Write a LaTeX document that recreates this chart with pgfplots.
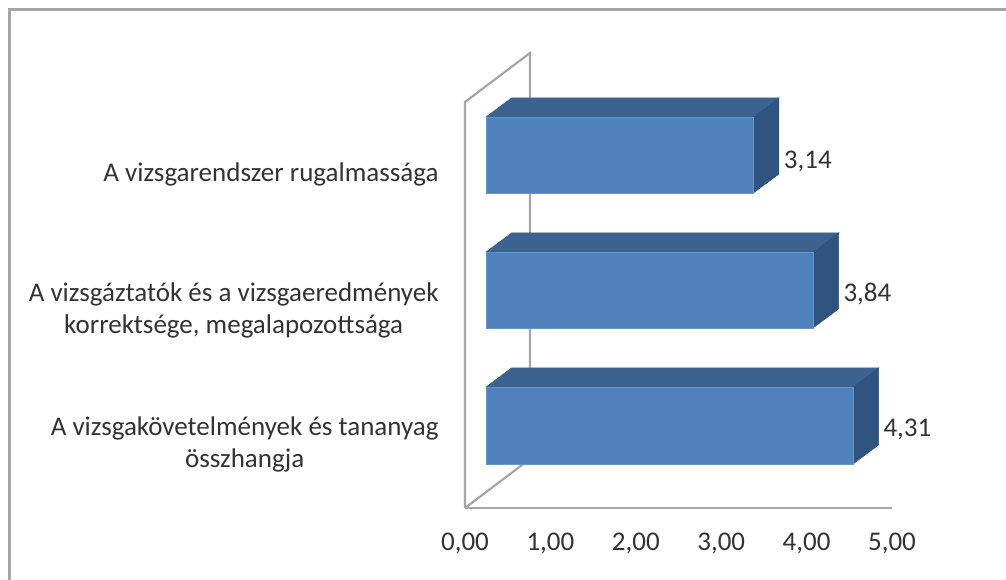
\documentclass[border=0pt]{standalone}
\usepackage{pgfplots}
\usepackage{fontspec}
\setmainfont{Carlito}
\pgfplotsset{compat=1.18}
\definecolor{wallgray}{HTML}{A6A6A6}
\definecolor{barfront}{HTML}{4F81BD}
\definecolor{bartop}{HTML}{3C6290}
\definecolor{barside}{HTML}{31537F}
\definecolor{txt}{HTML}{333333}
\begin{document}
\begin{tikzpicture}[x=1pt,y=1pt]
\useasboundingbox (0,0) rectangle (1006,580);
\draw[wallgray,line width=3pt] (9,0) -- (9,570) -- (1006,570);
\begin{axis}[
  at={(465pt,72pt)},anchor=south west,scale only axis,width=427pt,height=455pt,
  xmin=0,xmax=5,ymin=0,ymax=455,clip=false,
  axis x line*=bottom,axis y line=none,
  axis line style={wallgray,line width=2.2pt,-},
  xtick={0,1,2,3,4,5},major tick length=0pt,
  x tick label style={/pgf/number format/.cd,fixed,fixed zerofill,precision=2,dec sep={,},assume math mode=true},
  tick label style={font=\fontsize{27}{32}\selectfont,text=txt},
  xticklabel shift=21pt,
]
\addplot[wallgray,line width=2.2pt,mark=none] coordinates {(0,0)(0,406)(0.761,455)(0.761,49)(0,0)};
\end{axis}
\begin{axis}[
  at={(465pt,72pt)},anchor=south west,scale only axis,width=427pt,height=455pt,
  xmin=-0.2466,xmax=4.768,ymin=0,ymax=455,clip=false,
  axis x line=none,axis y line*=left,
  axis line style={draw=none},
  ytick={334,198,64},major tick length=0pt,
  yticklabels={A vizsgarendszer rugalmassága,
    {A vizsgáztatók és a vizsgaeredmények\\korrektsége, megalapozottsága},
    {A vizsgakövetelmények és tananyag\\összhangja}},
  y tick label style={font=\fontsize{27}{32}\selectfont,text=txt,align=center,anchor=east,xshift=-23pt},
  /pgf/number format/.cd,fixed,fixed zerofill,precision=2,dec sep={,},assume math mode=true,
]
% bar 4.31
\addplot[fill=bartop,draw=bartop,line width=.5pt] coordinates {(0,121)(4.31,121)(4.61,140)(0.30,140)} -- cycle;
\addplot[fill=barside,draw=barside,line width=.5pt] coordinates {(4.31,44)(4.61,63)(4.61,140)(4.31,121)} -- cycle;
\addplot[fill=barfront,draw=barfront!85!white,line width=.8pt] coordinates {(0,44)(4.31,44)(4.31,121)(0,121)} -- cycle;
% bar 3.84
\addplot[fill=bartop,draw=bartop,line width=.5pt] coordinates {(0,256)(3.84,256)(4.14,275)(0.30,275)} -- cycle;
\addplot[fill=barside,draw=barside,line width=.5pt] coordinates {(3.84,180)(4.14,199)(4.14,275)(3.84,256)} -- cycle;
\addplot[fill=barfront,draw=barfront!85!white,line width=.8pt] coordinates {(0,180)(3.84,180)(3.84,256)(0,256)} -- cycle;
% bar 3.14
\addplot[fill=bartop,draw=bartop,line width=.5pt] coordinates {(0,391)(3.14,391)(3.44,410)(0.30,410)} -- cycle;
\addplot[fill=barside,draw=barside,line width=.5pt] coordinates {(3.14,315)(3.44,334)(3.44,410)(3.14,391)} -- cycle;
\addplot[fill=barfront,draw=barfront!85!white,line width=.8pt] coordinates {(0,315)(3.14,315)(3.14,391)(0,391)} -- cycle;
% labels
\addplot[draw=none,mark=none,point meta=x,nodes near coords,
  every node near coord/.append style={font=\fontsize{27}{32}\selectfont,text=txt,anchor=west,xshift=27pt,yshift=0pt},
  nodes near coords align={anchor=west}] coordinates {(3.14,347)(3.84,214)(4.31,79)};
\end{axis}
\end{tikzpicture}
\end{document}
